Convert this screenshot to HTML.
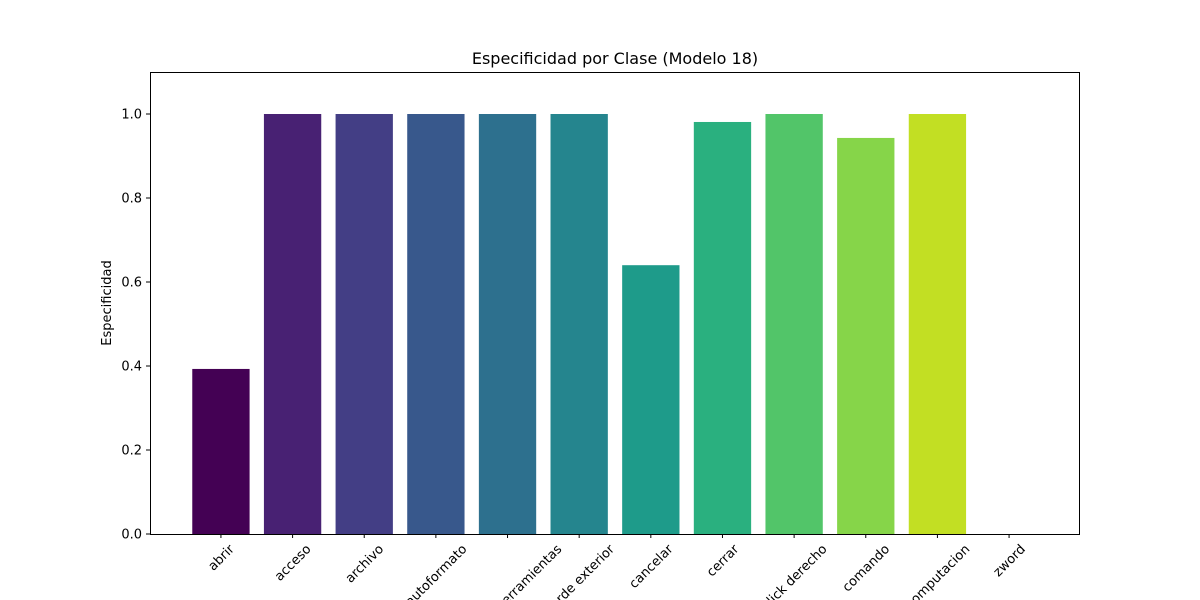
<!DOCTYPE html>
<html><head><meta charset="utf-8"><style>
html,body{margin:0;background:#fff;width:1200px;height:600px;overflow:hidden}
svg{display:block;overflow:hidden;font-family:"DejaVu Sans","Liberation Sans",sans-serif}
</style></head><body>
<svg id="c" width="1200" height="600">
<defs><clipPath id="frame"><rect x="0" y="0" width="1200" height="600"/></clipPath></defs>
<rect width="1200" height="600" fill="#fff"/>
<text x="615" y="64" font-size="16" text-anchor="middle">Especificidad por Clase (Modelo 18)</text>
<text transform="translate(111,303) rotate(-90)" font-size="13" text-anchor="middle">Especificidad</text>
<g id="bars"></g><g id="yt"></g><g id="xt" clip-path="url(#frame)"></g>
<rect x="150.5" y="72.5" width="929" height="462" fill="none" stroke="#000" stroke-width="1"/>
</svg>
<script>
const categories=["abrir","acceso","archivo","autoformato","barra de herramientas","borde exterior","cancelar","cerrar","click derecho","comando","computacion","zword"];
const values=[0.393,1,1,1,1,1,0.64,0.981,1,0.943,1,0];
const yTicks=[0,0.2,0.4,0.6,0.8,1.0];
const colors=["#440154","#482173","#433e85","#38588c","#2d708e","#25858e","#1e9b8a","#2ab07f","#52c569","#86d549","#c2df23","#fde725"];
const NS="http://www.w3.org/2000/svg";
const L=150,R=1080,T=72,B=534;
const y=v=>B-(v/1.1)*(B-T);
const x0=-0.99,x1=categories.length-1+0.99;
const x=i=>L+(i-x0)/(x1-x0)*(R-L);
const bw=0.8*(R-L)/(x1-x0);
function mk(t,a,p){const e=document.createElementNS(NS,t);for(const k in a)e.setAttribute(k,a[k]);p.appendChild(e);return e;}
const gb=document.getElementById('bars'),gy=document.getElementById('yt'),gx=document.getElementById('xt');
values.forEach((v,i)=>{
 const r=mk('rect',{x:x(i)-bw/2,y:y(v),width:bw,height:B-y(v),fill:colors[i]},gb);
 
 
});
yTicks.forEach(t=>{
 const l=mk('line',{x1:L-4,x2:L,y1:y(t),y2:y(t),stroke:'#000'},gy);
 
 
 const s=mk('text',{x:L-8,y:y(t)+4.5,'font-size':13,'text-anchor':'end'},gy);
 s.textContent=t.toFixed(1);
 
 
});
categories.forEach((c,i)=>{
 const l=mk('line',{x1:x(i),x2:x(i),y1:B,y2:B+4,stroke:'#000'},gx);
 
 
 const s=mk('text',{'font-size':13,'text-anchor':'middle'},gx);
 s.textContent=c;
 
 
 const w=s.getComputedTextLength();
 const h=(w+13)*Math.SQRT1_2;
 const cy=542+h/2;
 s.setAttribute('transform','translate('+x(i)+','+cy+') rotate(-45)');
 s.setAttribute('y',4.5);
});
</script>
</body></html>
